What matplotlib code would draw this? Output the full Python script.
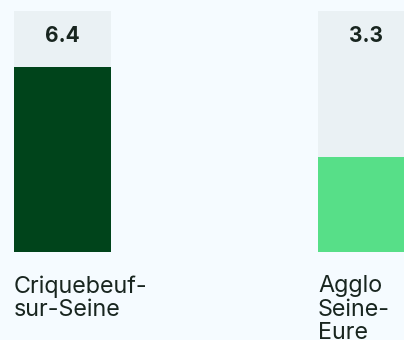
import matplotlib.pyplot as plt
from matplotlib.transforms import offset_copy

plt.rcParams["font.family"] = ["Inter", "DejaVu Sans"]

# values per commune / area
categories = ["Criquebeuf-\nsur-Seine", "Agglo\nSeine-\nEure"]
values = [6.4, 3.3]
value_labels = ["6.4", "3.3"]
track_max = 8.34  # height of the grey track behind every bar
bar_colors = ["#00441b", "#57df88"]

BG = "#f5fbff"
TRACK = "#eaf1f4"
TEXT = "#18251f"

W, H = 404, 340
fig = plt.figure(figsize=(W / 100, H / 100), dpi=100)
fig.patch.set_facecolor(BG)
ax = fig.add_axes([0, 0, 1, 1])
ax.set_facecolor(BG)

# pixel scale: 304 px between bar centres, ~28.9 px per unit
px_x, px_y = 304.0, 28.9
x0_px, base_px = 62.5, 88.0
ax.set_xlim(-x0_px / px_x, (W - x0_px) / px_x)
ax.set_ylim(-base_px / px_y, (H - base_px) / px_y)

bar_w = 97 / px_x
xs = list(range(len(categories)))

ax.bar(xs, [track_max] * len(xs), width=bar_w, color=TRACK, zorder=1)
ax.bar(xs, values, width=bar_w, color=bar_colors, zorder=2)

for x, lab in zip(xs, value_labels):
    ax.text(x, track_max - 0.85, lab, ha="center", va="center",
            fontsize=15, fontweight="bold", color=TEXT, zorder=3)

for x, cat in zip(xs, categories):
    tr = offset_copy(ax.transData, fig=fig, x=0, y=-23, units="dots")
    ax.text(x - bar_w / 2, 0, cat, ha="left", va="top", transform=tr,
            fontsize=16.8, color=TEXT, linespacing=1.1)

ax.axis("off")
fig.savefig("out.png", dpi=100, facecolor=BG)
